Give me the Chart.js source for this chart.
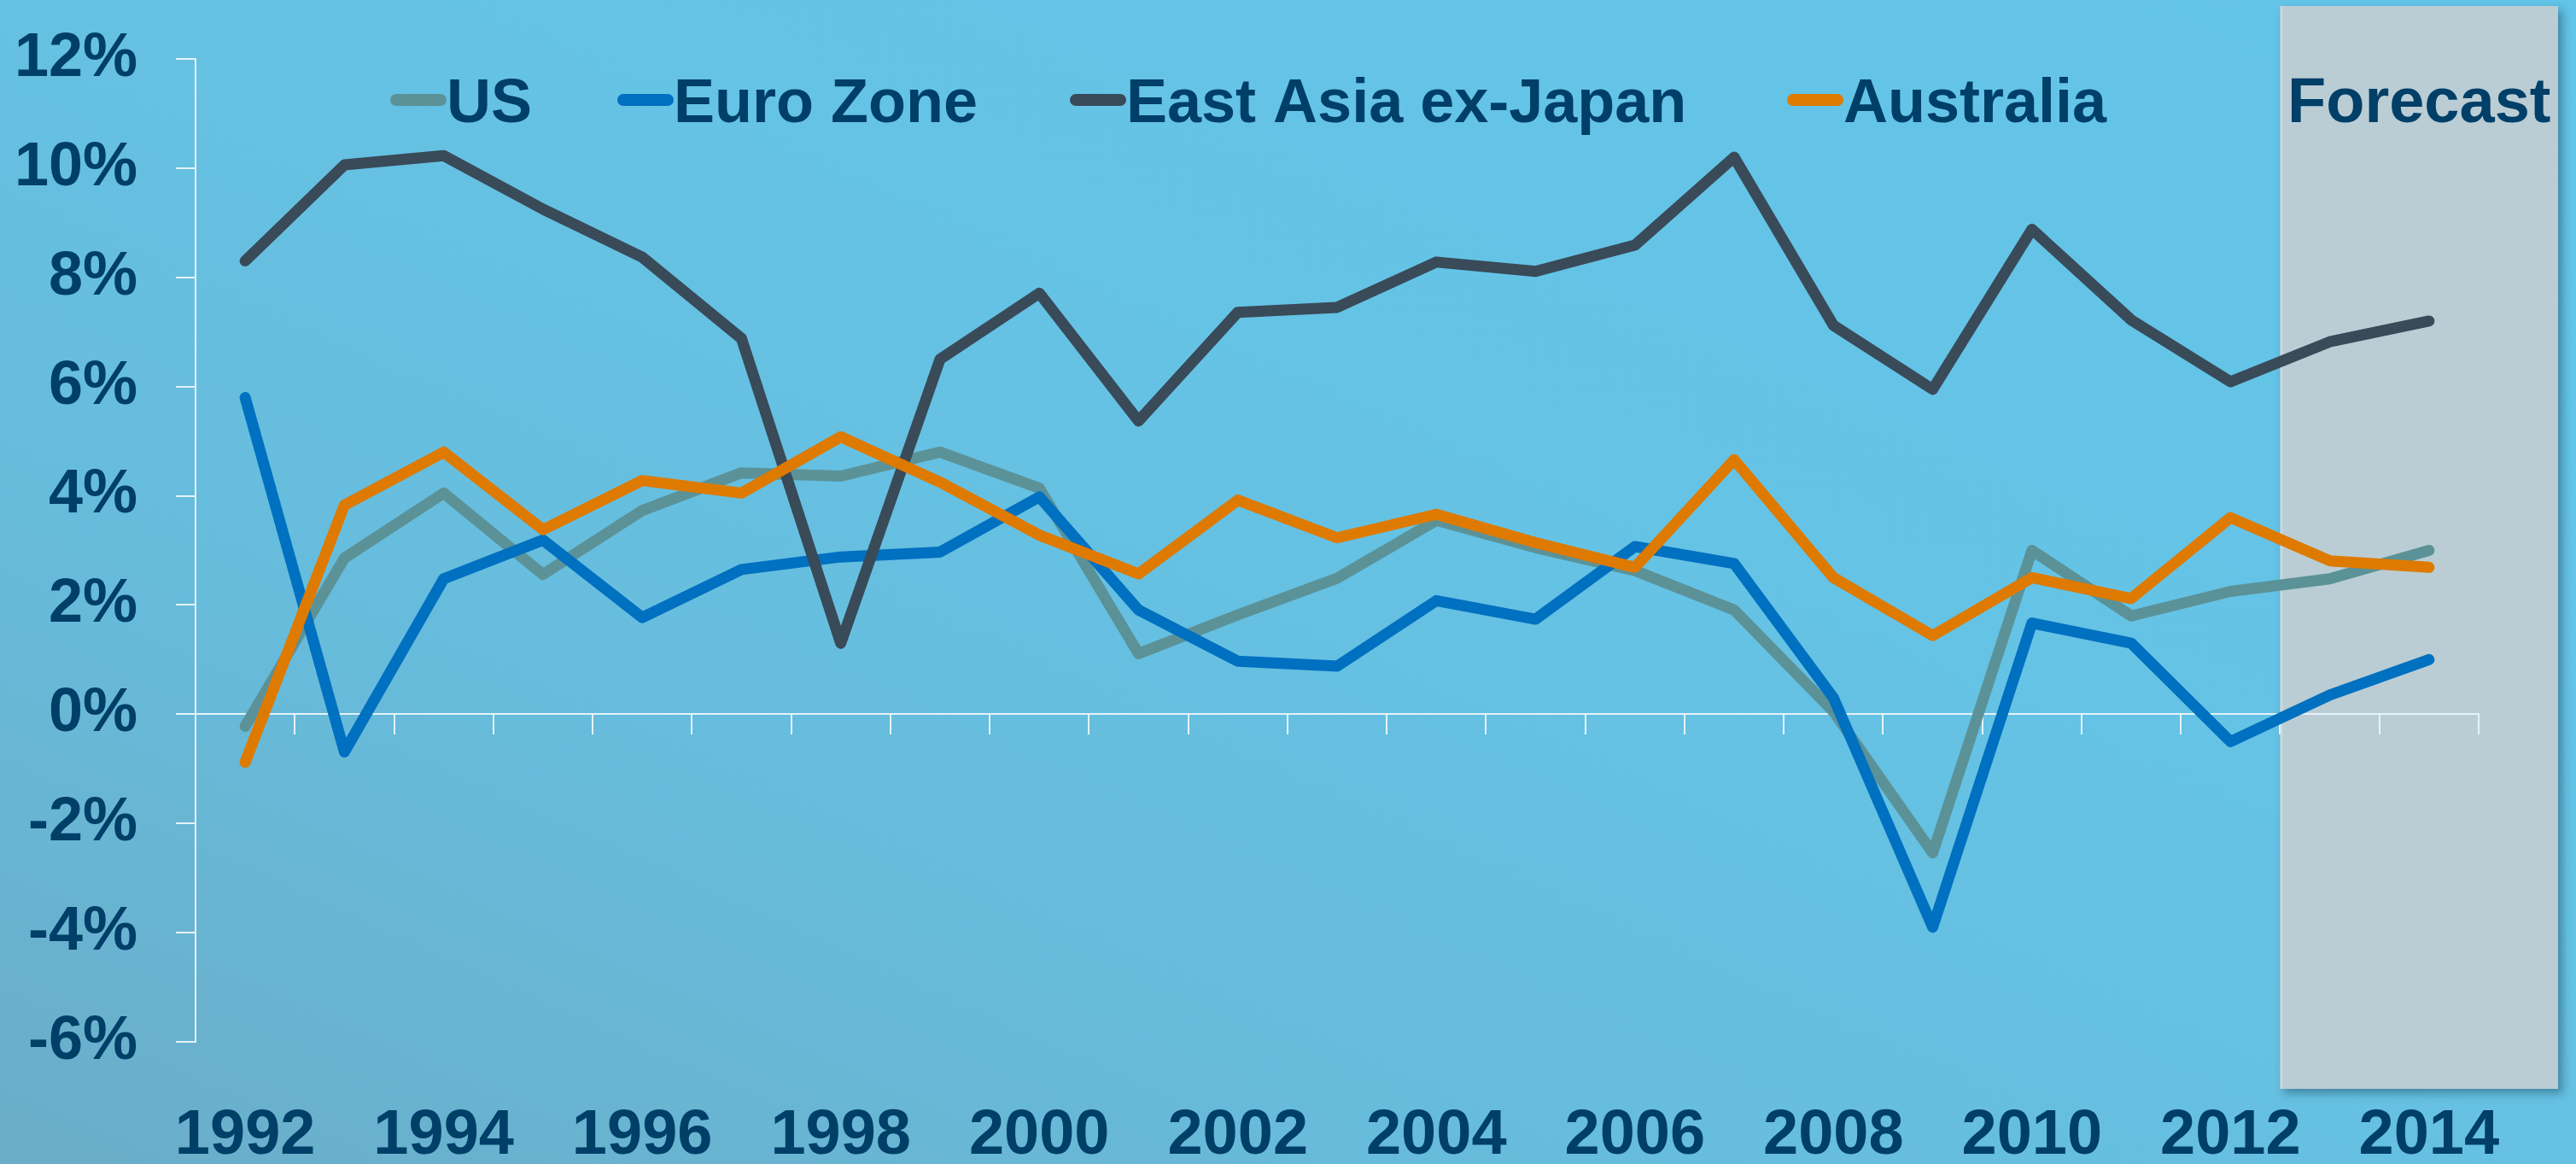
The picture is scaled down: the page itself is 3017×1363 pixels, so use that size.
<!DOCTYPE html>
<html>
<head>
<meta charset="utf-8">
<script src="https://cdn.jsdelivr.net/npm/chart.js@4"></script>
<style>
  html, body { margin: 0; padding: 0; }
  body {
    width: 3017px; height: 1363px; overflow: hidden;
    background: linear-gradient(to top right, #6aadc8 0%, #67bcdc 30%, #65c3e5 60%, #63c5e9 100%);
  }
  canvas { display: block; }
</style>
</head>
<body>
<canvas id="c" width="3017" height="1363"></canvas>
<script>
// ---- data ----
const years = ['1992','1993','1994','1995','1996','1997','1998','1999','2000','2001','2002','2003',
               '2004','2005','2006','2007','2008','2009','2010','2011','2012','2013','2014'];
const usGrowth       = [-0.22, 2.86, 4.05, 2.56, 3.73, 4.42, 4.36, 4.80, 4.14, 1.11, 1.82, 2.49,
                         3.55, 3.05, 2.63, 1.91, 0.05, -2.54, 3.00, 1.80, 2.25, 2.48, 3.00];
const euroZone       = [5.80, -0.69, 2.48, 3.19, 1.77, 2.65, 2.88, 2.97, 3.98, 1.91, 0.97, 0.88,
                         2.08, 1.74, 3.07, 2.76, 0.30, -3.90, 1.67, 1.30, -0.50, 0.35, 1.00];
const eastAsiaExJapan= [8.30, 10.06, 10.23, 9.25, 8.37, 6.88, 1.30, 6.50, 7.71, 5.37, 7.36, 7.45,
                         8.28, 8.11, 8.59, 10.20, 7.12, 5.95, 8.88, 7.22, 6.09, 6.82, 7.20];
const australia      = [-0.88, 3.83, 4.80, 3.38, 4.28, 4.05, 5.08, 4.25, 3.28, 2.57, 3.92, 3.23,
                         3.66, 3.14, 2.69, 4.66, 2.50, 1.44, 2.50, 2.12, 3.60, 2.81, 2.69];
const seriesNames  = ['US', 'Euro Zone', 'East Asia ex-Japan', 'Australia'];
const seriesColors = ['#5b9298', '#0070c0', '#394a59', '#de7a00'];
const yMin = -6, yMax = 12, yStep = 2;
const forecastLabel = 'Forecast';
const forecastStartYear = '2013';

// ---- style ----
const NAVY = '#003f68';
const FONT = "'Liberation Sans', Arial, sans-serif";
const AXIS = '#e4f3f9';

const seriesValues = [usGrowth, euroZone, eastAsiaExJapan, australia];
const datasets = seriesValues.map((vals, i) => ({
  label: seriesNames[i],
  data: vals,
  borderColor: seriesColors[i],
  backgroundColor: seriesColors[i],
  borderWidth: 13,
  borderCapStyle: 'round',
  borderJoinStyle: 'round',
  pointRadius: 0,
  tension: 0,
  fill: false,
  clip: false,
  order: seriesValues.length - i
}));

const forecastPlugin = {
  id: 'forecastBox',
  beforeDraw(chart) {
    const { ctx, chartArea, scales } = chart;
    const xs = scales.x;
    const idx = years.indexOf(forecastStartYear);
    const half = (xs.getPixelForValue(1) - xs.getPixelForValue(0)) / 2;
    const left = xs.getPixelForValue(idx) - half;
    const right = chartArea.right + 93;
    const top = 7, bottom = 1275;
    ctx.save();
    ctx.shadowColor = 'rgba(20,60,80,0.45)';
    ctx.shadowBlur = 10;
    ctx.shadowOffsetX = 5;
    ctx.shadowOffsetY = 5;
    ctx.fillStyle = '#bacdd4';
    ctx.fillRect(left, top, right - left, bottom - top);
    ctx.restore();
    ctx.save();
    ctx.fillStyle = 'rgba(255,255,255,0.25)';
    ctx.fillRect(left, top, 3, bottom - top);
    ctx.fillStyle = NAVY;
    ctx.font = `bold 74px ${FONT}`;
    ctx.textAlign = 'center';
    ctx.textBaseline = 'alphabetic';
    ctx.fillText(forecastLabel, (left + right) / 2, 143);
    ctx.restore();
  }
};

const legendPlugin = {
  id: 'customLegend',
  afterDraw(chart) {
    const { ctx } = chart;
    const starts = [457, 723, 1253, 2093];
    ctx.save();
    ctx.font = `bold 72px ${FONT}`;
    ctx.textBaseline = 'alphabetic';
    ctx.textAlign = 'left';
    chart.data.datasets.forEach((ds, i) => {
      const x = starts[i];
      ctx.strokeStyle = ds.borderColor;
      ctx.lineWidth = 14;
      ctx.lineCap = 'round';
      ctx.beginPath();
      ctx.moveTo(x + 7, 117);
      ctx.lineTo(x + 59, 117);
      ctx.stroke();
      ctx.fillStyle = NAVY;
      ctx.fillText(ds.label, x + 66, 143);
    });
    ctx.restore();
  }
};

new Chart(document.getElementById('c'), {
  type: 'line',
  data: { labels: years, datasets },
  plugins: [forecastPlugin, legendPlugin],
  options: {
    responsive: false,
    animation: false,
    devicePixelRatio: 1,
    layout: { padding: { top: 69, right: 114, left: 0, bottom: 0 } },
    plugins: { legend: { display: false }, tooltip: { enabled: false } },
    scales: {
      x: {
        type: 'category',
        position: { y: 0 },
        offset: true,
        grid: { display: true, offset: true, drawOnChartArea: false, drawTicks: true, tickLength: 23, color: AXIS, lineWidth: 2 },
        border: { display: true, color: AXIS, width: 2 },
        ticks: { display: false }
      },
      x2: {
        type: 'category',
        axis: 'x',
        position: 'bottom',
        offset: true,
        grid: { display: false, drawTicks: false },
        border: { display: false },
        ticks: {
          autoSkip: false, maxRotation: 0, minRotation: 0, padding: 66,
          color: NAVY, font: { family: FONT, size: 74, weight: 'bold' },
          callback: function(v, i) { return i % 2 === 0 ? this.getLabelForValue(v) : ''; }
        },
        afterFit(s) { s.height = 143; s.paddingLeft = 0; s.paddingRight = 0; }
      },
      y: {
        min: yMin, max: yMax,
        position: 'left',
        grid: { display: true, drawOnChartArea: false, drawTicks: true, tickLength: 23, color: AXIS, lineWidth: 2 },
        border: { display: true, color: AXIS, width: 2 },
        ticks: {
          stepSize: yStep, padding: 45, color: NAVY,
          font: { family: FONT, size: 72, weight: 'bold' },
          callback: v => v + '%'
        },
        afterFit(s) { s.width = 229; s.paddingTop = 0; s.paddingBottom = 0; }
      }
    }
  }
});
</script>
</body>
</html>
